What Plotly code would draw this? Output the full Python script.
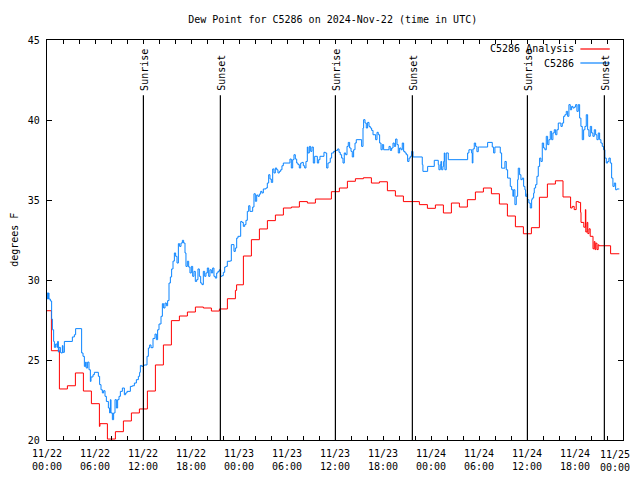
import pandas as pd
import plotly.graph_objects as go

BASE = pd.Timestamp("2024-11-22 00:00")

# ---- data (hours since 2024-11-22 00:00 UTC, degrees F) ----
analysis_hours = [0, 0.55, 1.55, 2.55, 3.55, 4.55, 5.55, 6.55, 6.62, 7.55, 8.55, 9.55,
                  10.55, 11.55, 12.55, 13.55, 14.55, 15.55, 16.55, 17.55, 18.55, 19.55,
                  20.55, 21.55, 22.55, 23.55, 23.7, 24.55, 25.55, 26.55, 27.55, 28.55,
                  29.55, 30.55, 31.55, 32.55, 33.55, 35.55, 36.55, 37.55, 38.55, 39.55,
                  40.55, 41.55, 42.55, 43.55, 44.55, 46.55, 47.55, 48.55, 49.55, 50.55,
                  51.55, 52.55, 53.55, 54.55, 55.55, 56.55, 57.55, 58.55, 59.55, 60.55,
                  61.55, 62.55, 63.55, 64.5, 65.45, 65.65, 65.9, 66.15, 66.45, 66.7,
                  66.75, 67.1, 67.3, 67.35, 67.5, 67.6, 67.75, 67.9, 68.25, 68.4, 68.5,
                  68.6, 68.75, 68.9, 69.0, 70.45, 71.54]
analysis_vals = [28.08, 25.58, 23.19, 23.39, 24.19, 23.06, 22.27, 20.85, 21.02, 20.06, 20.52, 21.19,
                 21.69, 21.94, 23.06, 24.69, 25.94, 27.46, 27.75, 28.0, 28.31, 28.25,
                 28.06, 28.19, 28.83, 29.35, 29.7, 31.5, 32.52, 33.19, 33.71, 34.06,
                 34.5, 34.56, 34.9, 34.81, 35.06, 35.52, 35.75, 36.17, 36.33, 36.39,
                 36.06, 36.14, 35.58, 35.25, 34.9, 34.71, 34.48, 34.69, 34.19, 34.81,
                 34.56, 35.02, 35.5, 35.75, 35.39, 34.75, 34.0, 33.33, 32.89, 33.27,
                 35.17, 36.0, 36.2, 35.19, 34.5, 34.6, 34.4, 34.9, 34.85, 34.23,
                 33.6, 33.3, 34.4, 33.0, 33.6, 32.9, 33.2, 32.73, 31.95, 32.4, 31.9,
                 32.3, 31.9, 32.2, 32.14, 31.64, 31.64]

obs_hours = [0, 0.08, 0.17, 0.25, 0.42, 0.58, 0.67, 0.83, 0.92, 1.08, 1.25, 1.33, 1.42, 1.5,
             1.67, 1.75, 1.92, 2.0, 2.17, 3.17, 3.42, 3.58, 4.33, 4.5, 4.67, 4.83, 4.9,
             5.08, 5.25, 5.42, 5.5, 5.75, 5.92, 6.42, 6.58, 6.75, 6.92, 7.08, 7.25, 7.42,
             7.67, 7.83, 7.92, 8.0, 8.17, 8.33, 8.5, 8.67, 8.83, 9.0, 9.17, 9.42, 9.67,
             9.83, 10.0, 10.42, 10.67, 10.92, 11.17, 11.42, 11.58, 11.67, 11.83, 12.0,
             12.17, 12.5, 12.67, 12.83, 13.0, 13.25, 13.5, 13.67, 13.83, 14.0, 14.25,
             14.42, 14.58, 14.75, 14.92, 15.08, 15.25, 15.42, 15.58, 15.75, 15.92, 16.08,
             16.25, 16.42, 16.58, 16.75, 16.92, 17.08, 17.25,
             17.37, 17.54, 17.71, 17.87, 18.04, 18.21, 18.37, 18.54, 18.71, 18.87, 19.04,
             19.21, 19.37, 19.54, 19.71, 19.87, 20.04, 20.21, 20.37, 20.54, 20.71, 20.87,
             21.04, 21.21, 21.37, 21.54, 21.71, 21.87, 22.04, 22.21, 22.37, 22.54, 22.87,
             23.04, 23.37, 23.54, 23.71, 23.87, 24.21, 24.37, 24.54, 24.71, 24.87, 25.04,
             25.21, 25.37, 25.71, 25.87, 26.04, 26.21, 26.37, 26.54, 26.71, 26.87, 27.04,
             27.37, 27.54, 27.71, 27.87, 28.04, 28.21, 28.37, 28.54, 28.71, 28.87, 29.04,
             29.21, 29.37, 29.54, 30.37, 30.54, 30.71, 30.87, 31.04, 31.21, 31.37, 31.54,
             31.71, 31.87, 32.04, 32.21, 32.37, 32.54, 32.62, 32.79, 32.96, 33.12, 33.29,
             33.46, 33.79, 33.96, 34.12, 34.62, 34.79, 34.96, 35.12, 35.29,
             35.41, 35.58, 35.83, 36.08, 36.33, 36.5, 36.66, 36.83, 37.0, 37.16, 37.33,
             37.5, 37.66, 37.83, 38.0, 38.16, 38.33, 38.5, 38.66, 39.33, 39.5, 39.58,
             39.75, 39.91, 40.08, 40.25, 40.41, 40.58, 40.75, 41.08, 41.25, 41.41, 41.58,
             41.75, 41.91, 42.08, 42.75, 42.91, 43.08, 43.25, 43.41, 43.58, 43.75, 43.91,
             44.08, 44.25, 44.41, 44.58, 44.75, 44.91, 45.08, 45.25, 45.41, 45.58, 45.75,
             46.91, 46.99, 47.58, 48.41, 48.91, 48.99, 49.16, 49.24, 49.33, 49.49, 49.58,
             49.66, 49.74, 49.91, 50.16, 52.58, 52.74, 52.91, 53.08, 53.16, 53.24, 53.41,
             53.58, 53.74, 53.91, 54.08, 55.08, 55.66, 55.83, 55.99, 56.66, 56.83, 57.24,
             57.41, 57.58, 57.91, 58.08, 58.24, 58.33, 58.49, 58.66, 58.83, 58.91, 59.08,
             59.24, 59.41, 59.58, 59.74, 59.83, 59.99, 60.08, 60.24, 60.41, 60.58, 60.66,
             60.83, 60.91, 61.08, 61.24, 61.41, 61.58, 61.74, 61.91, 62.08, 62.24, 62.41,
             62.58, 62.74, 62.91, 63.08, 63.24, 63.41, 63.58, 63.74, 63.91, 64.24, 64.41,
             64.58, 64.74, 64.91, 65.08, 65.24, 65.41, 65.58, 65.74, 65.91, 66.08, 66.24,
             66.41, 66.58, 66.74, 66.91, 67.08, 67.24, 67.41, 67.58, 67.74, 67.91, 68.08,
             68.24, 68.41, 68.58, 68.74, 68.91, 69.08, 69.24, 69.41, 69.58, 69.74, 69.91,
             70.08, 70.24, 70.41, 70.58, 70.74, 70.91, 71.08, 71.24, 71.54]
obs_vals = [29.19, 28.81, 29.19, 28.81, 28.69, 27.56, 26.89, 26.16, 25.79, 26.0, 25.79, 26.16, 25.5, 25.79,
            25.48, 25.44, 25.9, 25.48, 26.16, 26.44, 26.58, 26.96, 25.44, 25.23, 24.6, 24.87, 24.5,
            24.87, 24.39, 23.66, 23.94, 24.08, 24.23, 23.98, 23.46, 23.14, 22.94, 23.08, 22.73, 22.41,
            22.0, 21.69, 22.52, 21.69, 21.27, 21.69, 22.52, 22.0, 22.52, 22.73, 23.04, 23.25, 22.83,
            22.94, 23.04, 23.35, 23.39, 23.56, 23.77, 23.98, 24.23, 24.66, 24.6, 24.66,
            24.69, 25.23, 25.75, 25.94, 25.77, 26.35, 26.62, 26.27, 26.89, 27.25, 27.73,
            28.52, 28.25, 28.56, 28.39, 28.71, 29.81, 30.19, 30.69, 31.18, 31.69, 31.48,
            31.06, 32.27, 32.1, 32.31, 32.48, 32.31, 31.69,
            30.85, 31.17, 30.81, 30.44, 30.85, 30.23, 30.54, 29.91, 30.02, 30.69, 30.23,
            29.81, 29.71, 30.54, 30.23, 30.44, 30.75, 30.23, 30.64, 30.44, 30.75, 30.23,
            30.12, 30.44, 30.54, 30.64, 30.23, 30.27, 30.48, 30.81, 30.85, 31.17, 31.19,
            32.21, 31.79, 32.0, 32.62, 32.73, 33.66, 33.6, 33.35, 33.46, 33.73, 34.29,
            34.64, 34.29, 34.56, 35.39, 34.92, 35.31, 35.23, 35.37, 35.54, 35.44, 35.69,
            35.75, 36.06, 36.58, 36.31, 36.1, 36.94, 36.69, 37.0, 36.89, 36.69, 36.79,
            36.89, 37.14, 37.31, 37.56, 37.0, 37.52, 37.83, 37.56, 37.31, 37.21, 37.0,
            37.31, 37.35, 37.14, 37.0, 37.41, 38.31, 37.94, 38.35, 38.04, 38.31, 37.31,
            37.73, 37.31, 37.52, 37.73, 37.98, 37.94, 37.0, 37.31, 37.35,
            37.62, 37.94, 38.04, 38.1, 38.19, 37.98, 37.83, 37.62, 37.31, 37.94, 37.83,
            38.35, 38.6, 38.25, 38.04, 37.69, 38.14, 38.56, 38.77, 38.35, 39.5, 40.02,
            39.81, 39.5, 39.85, 39.6, 39.5, 39.35, 39.08, 38.77, 39.23, 39.08, 38.56,
            38.14, 38.46, 38.14, 38.35, 38.1, 38.25, 38.56, 38.35, 38.81, 38.46, 37.94,
            38.25, 38.14, 38.56, 38.04, 37.94, 37.83, 37.41, 37.62, 37.73, 38.04, 37.69,
            37.21, 36.79, 37.1, 37.48, 37.21, 36.89, 37.21, 37.41, 36.89, 37.1, 37.41,
            37.94, 36.89, 37.94, 37.52, 37.94, 38.14, 38.14, 37.94, 37.31, 38.19, 38.56,
            38.35, 38.02, 38.31, 38.31, 38.6, 38.31, 37.94, 38.31, 37.94, 36.99, 37.41,
            36.89, 36.37, 35.85, 35.64, 35.23, 35.64, 34.71, 35.23, 36.27, 36.99, 36.58,
            36.27, 36.37, 35.85, 35.64, 35.23, 35.39, 35.02, 34.81, 34.5, 35.02, 35.12,
            35.43, 35.75, 35.96, 36.48, 37.1, 37.62, 37.41, 38.56, 38.25, 38.14, 38.98,
            38.46, 38.77, 39.29, 38.77, 39.19, 39.39, 39.08, 39.39, 39.81, 39.6, 39.81,
            40.23, 40.33, 40.54, 40.23, 40.96, 40.64, 40.85, 40.75, 40.81, 40.96, 40.54,
            40.96, 40.12, 39.6, 38.77, 39.39, 39.6, 40.33, 39.39, 38.98, 39.6, 39.19,
            38.98, 39.39, 39.08, 38.77, 39.19, 38.77, 38.56, 38.35, 38.14, 37.62, 37.31,
            37.41, 37.62, 37.31, 36.37, 35.85, 36.06, 35.64, 35.69, 35.69]

sunrise_hours = [12.05, 36.05, 60.05]
sunset_hours = [21.67, 45.67, 69.67]

tick_hours = [0, 6, 12, 18, 24, 30, 36, 42, 48, 54, 60, 66, 72]
tick_labels = ["11/22<br>00:00", "11/22<br>06:00", "11/22<br>12:00", "11/22<br>18:00",
               "11/23<br>00:00", "11/23<br>06:00", "11/23<br>12:00", "11/23<br>18:00",
               "11/24<br>00:00", "11/24<br>06:00", "11/24<br>12:00", "11/24<br>18:00",
               "11/25<br>00:00"]


def to_time(hours):
    return [BASE + pd.Timedelta(hours=h) for h in hours]


FONT = "DejaVu Sans Mono"
RED = "#ff0000"
BLUE = "#0a84ff"
FIG_W, FIG_H = 632, 464   # page body keeps its 8px margin: 8 + 632 = 640, 8 + 464 + 8 = 480

fig = go.Figure()
fig.add_trace(go.Scatter(x=to_time(analysis_hours), y=analysis_vals, mode="lines",
                         line=dict(color=RED, width=1, shape="hv"),
                         name="C5286 Analysis", showlegend=False))
fig.add_trace(go.Scatter(x=to_time(obs_hours), y=obs_vals, mode="lines",
                         line=dict(color=BLUE, width=1, shape="hv"),
                         name="C5286", showlegend=False))

shapes = []
annotations = []
for label, hrs in (("Sunrise", sunrise_hours), ("Sunset", sunset_hours)):
    for h in hrs:
        t = BASE + pd.Timedelta(hours=h)
        shapes.append(dict(type="line", xref="x", yref="y", x0=t, x1=t, y0=20, y1=41.55,
                           line=dict(color="black", width=1.2)))
        annotations.append(dict(x=t, y=41.72, xref="x", yref="y", text=label,
                                textangle=-90, showarrow=False, xanchor="center",
                                yanchor="bottom", xshift=1,
                                font=dict(family=FONT, size=10, color="black")))

# manual legend (gnuplot style: text left of sample line)
for row, (name, color) in enumerate((("C5286 Analysis", RED), ("C5286", BLUE))):
    yp = 0.9775 - row * 0.035
    annotations.append(dict(x=0.918, y=yp, xref="paper", yref="paper", text=name,
                            showarrow=False, xanchor="right", yanchor="middle",
                            font=dict(family=FONT, size=10, color="black")))
    shapes.append(dict(type="line", xref="paper", yref="paper", x0=0.926, x1=0.977,
                       y0=yp, y1=yp, line=dict(color=color, width=1.2)))

annotations.append(dict(x=-0.0576, y=0.5, xref="paper", yref="paper", text="degrees F",
                        textangle=-90, showarrow=False, xanchor="center", yanchor="middle",
                        font=dict(family=FONT, size=10, color="black")))

# last tick label drawn as an annotation, right-aligned so it stays inside the page
annotations.append(dict(x=to_time(tick_hours[-1:])[0], y=0, xref="x", yref="paper",
                        text=tick_labels[-1], showarrow=False, xanchor="right",
                        yanchor="top", xshift=8.5, yshift=-7, align="center",
                        font=dict(family=FONT, size=10, color="black")))

fig.update_layout(
    width=FIG_W, height=FIG_H,
    margin=dict(l=38.7, r=17.3, t=32, b=31.7, autoexpand=False),
    paper_bgcolor="white", plot_bgcolor="white",
    title=dict(text="Dew Point for C5286 on 2024-Nov-22 (time in UTC)",
               x=0.496, xref="paper", xanchor="center", y=1 - 11 / FIG_H, yref="container",
               yanchor="middle",
               font=dict(family=FONT, size=10, color="black")),
    font=dict(family=FONT, size=10, color="black"),
    shapes=shapes, annotations=annotations,
    showlegend=False,
)
fig.update_xaxes(
    range=[BASE, BASE + pd.Timedelta(hours=72)],
    tickvals=to_time(tick_hours), ticktext=tick_labels[:-1] + [""],
    ticks="inside", ticklen=4, tickcolor="black", tickwidth=1,
    showline=True, linecolor="black", linewidth=1.2, mirror="ticks",
    showgrid=False, zeroline=False, automargin=False, ticklabelstandoff=4,
    minor=dict(dtick=2 * 3600 * 1000, ticks="inside", ticklen=4, tickcolor="black",
               showgrid=False),
    tickfont=dict(family=FONT, size=10, color="black"),
)
fig.update_yaxes(
    range=[20, 45], dtick=5, tick0=20,
    ticks="inside", ticklen=5, tickcolor="black", tickwidth=1,
    showline=True, linecolor="black", linewidth=1.2, mirror="ticks",
    showgrid=False, zeroline=False, automargin=False, ticklabelstandoff=4,
    tickfont=dict(family=FONT, size=10, color="black"),
)

fig.write_html("out.html")
